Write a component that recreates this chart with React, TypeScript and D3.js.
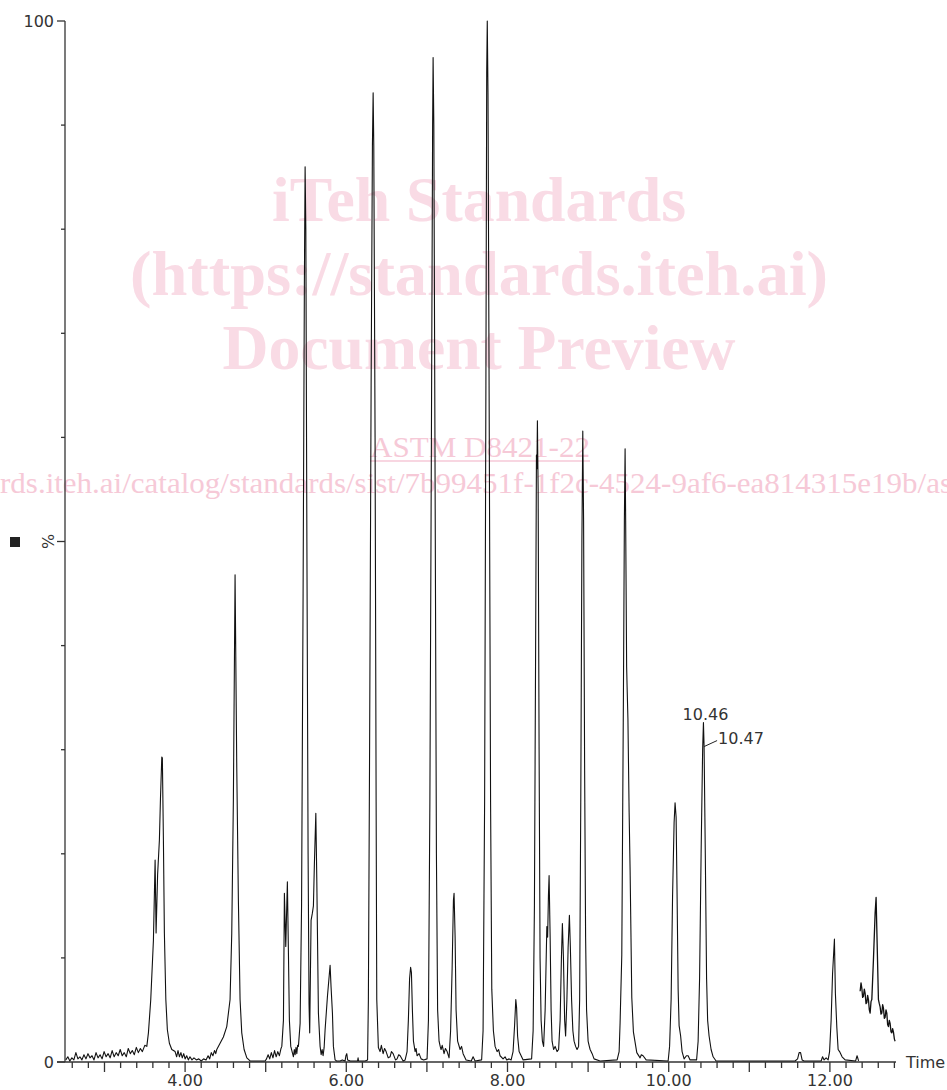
import React from 'react';
import * as d3 from 'd3';

// ---- data (time in minutes, intensity in %) ----
const region1: [number, number][] = [
  [2.52,0.2],[2.545,0.5],[2.57,0.1],[2.595,0.4],[2.62,0.2],[2.645,0.9],[2.67,0.3],[2.695,0.5],[2.72,0.2],[2.745,0.7],
  [2.77,0.3],[2.795,0.8],[2.82,0.4],[2.845,0.6],[2.87,0.2],[2.895,0.9],[2.92,0.4],[2.945,0.7],[2.97,0.3],[2.995,1.0],
  [3.02,0.5],[3.045,0.8],[3.07,0.4],[3.095,1.1],[3.12,0.5],[3.145,0.9],[3.17,0.6],[3.195,1.2],[3.22,0.6],[3.245,0.9],
  [3.27,0.5],[3.295,1.3],[3.32,0.8],[3.345,1.1],[3.37,0.7],[3.395,1.4],[3.42,0.9],[3.445,1.3],[3.47,1.0],[3.5,1.6],
  // peak ~3.71
  [3.525,1.5],[3.545,2.8],[3.574,6.0],[3.607,11.7],[3.628,19.4],[3.64,12.4],[3.659,18],[3.681,21.3],[3.694,25.2],
  [3.711,29.3],[3.718,29.2],[3.731,21.3],[3.743,12.4],[3.761,6.0],[3.78,3.1],[3.805,1.8],[3.835,1.2],[3.876,1.0],
  [3.895,0.5],[3.912,1.1],[3.93,0.5],[3.948,0.9],[3.965,0.4],[3.983,0.8],
];
const region2: [number, number][] = [
  [4.0,0.3],[4.02,0.6],[4.04,0.2],[4.06,0.5],[4.085,0.2],[4.11,0.4],[4.14,0.2],[4.17,0.3],[4.2,0.1],[4.23,0.3],
  [4.26,0.2],[4.285,0.6],[4.305,0.3],[4.325,0.9],[4.345,0.6],[4.365,1.1],[4.38,0.8],
  // peak ~4.62
  [4.393,1.2],[4.434,1.8],[4.475,2.4],[4.517,3.4],[4.558,6.0],[4.579,12.4],[4.599,25.2],[4.62,46.8],[4.641,28.3],
  [4.661,15.6],[4.682,6.0],[4.703,2.8],[4.732,1.2],[4.766,0.4],[4.806,0.1],[4.993,0.1],
  [5.01,0.3],[5.03,0.7],[5.05,0.3],[5.07,0.9],[5.09,0.4],[5.11,1.1],[5.13,0.5],[5.15,1.0],[5.17,0.6],[5.19,1.3],
  // doublet ~5.23 / 5.27
  [5.2,1.5],[5.22,4.0],[5.232,16.2],[5.249,11.1],[5.269,17.3],[5.282,10.5],[5.294,4.0],[5.311,1.5],[5.344,0.5],
  [5.355,1.2],[5.365,0.7],[5.376,1.4],[5.386,0.8],[5.396,1.6],[5.406,1.5],
  // peak ~5.49
  [5.427,3.7],[5.445,15],[5.464,45],[5.48,75],[5.489,86.0],[5.498,80],[5.511,50],[5.526,20],[5.538,5.5],[5.546,2.8],
  // peak ~5.62
  [5.563,13.6],[5.579,14.3],[5.592,15.0],[5.604,19.0],[5.622,23.9],[5.634,17.5],[5.654,4.7],[5.675,1.5],
  [5.688,0.7],[5.7,1.2],[5.712,0.6],[5.725,1.4],
  // peak ~5.80
  [5.737,3.1],[5.766,6.3],[5.799,9.3],[5.811,7.2],[5.828,4.7],[5.84,1.5],[5.861,0.2],[5.88,0.1],[5.923,0.1],
  [5.95,0.2],[5.985,0.1],
];
const region3: [number, number][] = [
  [5.995,0.6],[6.006,0.8],[6.016,0.2],[6.05,0.1],[6.14,0.1],[6.146,0.4],[6.152,0.1],[6.233,0.1],
  // peak ~6.33
  [6.264,0.2],[6.274,6],[6.289,30],[6.308,65],[6.324,88],[6.333,93.1],[6.341,88],[6.357,60],[6.37,25],[6.378,6],
  [6.398,1.4],[6.419,1.0],[6.435,1.6],[6.457,0.8],[6.475,1.3],[6.494,1.0],[6.52,0.4],[6.543,0.5],[6.56,1.0],
  [6.581,0.8],[6.61,0.2],[6.63,0.3],[6.65,0.7],[6.668,0.6],[6.705,0.1],
  // peak ~6.80
  [6.73,0.2],[6.754,1.0],[6.77,4],[6.785,8.0],[6.798,9.1],[6.808,8.6],[6.82,5],[6.833,2.0],[6.854,1.0],[6.866,1.3],
  [6.878,0.6],[6.903,0.8],[6.928,0.3],[6.96,0.2],
  // peak ~7.08
  [7.002,0.3],[7.019,4],[7.037,25],[7.056,60],[7.071,90],[7.077,96.5],[7.086,90],[7.102,55],[7.118,20],[7.133,5],
  [7.151,2],[7.165,1.5],[7.176,1.2],[7.19,1.6],[7.213,0.8],[7.23,1.3],[7.251,1.0],[7.275,0.4],
  // peak ~7.34
  [7.294,3],[7.313,9],[7.329,15.5],[7.337,16.2],[7.35,12],[7.362,5],[7.381,2],[7.412,1.2],[7.43,1.5],[7.449,0.8],
  [7.486,0.2],[7.55,0.1],[7.573,0.5],[7.598,0.1],
  // peak ~7.75
  [7.679,0.2],[7.697,3],[7.716,25],[7.732,65],[7.742,95],[7.749,100],[7.758,93],[7.774,60],[7.79,25],[7.805,7],
  [7.825,3],[7.846,1.5],[7.871,1.0],[7.89,1.2],[7.908,0.6],[7.945,0.3],[7.97,0.5],[7.99,0.2],
];
const region4: [number, number][] = [
  [8.02,0.3],
  // peak ~8.10
  [8.045,0.2],[8.069,1.0],[8.088,3.5],[8.103,6.0],[8.113,5.2],[8.125,2.5],[8.144,1.0],[8.169,0.6],[8.194,0.2],
  // peak ~8.37
  [8.299,0.3],[8.318,3],[8.334,15],[8.349,40],[8.359,58.3],[8.365,57],[8.371,61.6],[8.38,55],[8.392,30],[8.404,10],
  [8.417,4],[8.433,2],
  // peak ~8.52
  [8.448,1.5],[8.467,5],[8.488,13],[8.498,12],[8.508,16],[8.516,17.9],[8.529,12],[8.541,5],[8.553,2.0],[8.572,1.2],
  [8.591,1.5],[8.615,1.0],
  // peaks ~8.68 / 8.77
  [8.634,1.2],[8.653,4],[8.669,10],[8.681,13.3],[8.694,10],[8.709,4],[8.721,2.5],[8.737,6],[8.752,11],[8.768,14.1],
  [8.78,11],[8.795,6],[8.811,3],[8.826,2],[8.845,1.5],[8.863,1.2],
  // peak ~8.93
  [8.882,1.5],[8.895,6],[8.909,25],[8.923,50],[8.934,60.6],[8.944,52],[8.957,28],[8.969,12],[8.981,5],[9.0,2],
  [9.012,1.6],[9.025,1.2],[9.05,0.8],[9.074,0.3],[9.149,0.1],
  // peak ~9.46
  [9.36,0.2],[9.385,1.0],[9.397,3.8],[9.418,10.3],[9.438,35],[9.45,52],[9.459,58.9],[9.466,52],[9.478,38],[9.484,36],
  [9.494,33],[9.509,24],[9.521,18.5],[9.542,6.2],[9.562,2.9],[9.604,0.9],[9.645,0.4],[9.66,0.7],[9.682,0.6],[9.72,0.2],
];
const region5: [number, number][] = [
  // peak ~10.08
  [9.993,0.1],[10.011,1.5],[10.03,6],[10.048,16],[10.067,23],[10.079,24.9],[10.092,23.5],[10.104,16],[10.117,7],
  [10.129,3.5],[10.148,2.5],[10.166,1.0],[10.191,0.3],[10.22,0.6],[10.241,0.6],[10.265,0.2],
  // peak 10.46 / 10.47
  [10.346,0.2],[10.365,2],[10.383,8],[10.402,20],[10.421,30],[10.431,32.6],[10.439,30.3],[10.454,20],[10.47,8],
  [10.483,4],[10.501,2.5],[10.526,1.2],[10.551,0.5],[10.588,0.1],
  [11.568,0.1],[11.599,0.3],[11.618,0.9],[11.636,0.9],[11.655,0.2],[11.68,0.1],
  [11.891,0.1],[11.909,0.5],[11.928,0.2],[11.953,0.4],[11.978,0.2],
  // peak ~12.06
  [11.996,1.0],[12.015,4],[12.033,8.5],[12.056,11.8],[12.068,6.6],[12.086,3.3],[12.102,1.2],[12.12,1.0],[12.151,0.5],
  [12.189,0.2],[12.319,0.1],[12.337,0.6],[12.356,0.1],
];
const tailSegment: [number, number][] = [
  [12.375,6.8],[12.386,7.6],[12.396,7.1],[12.406,6.2],[12.416,6.3],[12.427,7.0],[12.437,6.6],[12.448,5.6],[12.458,5.7],
  [12.468,6.4],[12.478,6.0],[12.489,5.0],[12.499,4.7],[12.51,5.8],[12.52,6.0],[12.54,9.8],[12.561,14.3],[12.573,15.8],
  [12.586,11.4],[12.602,6.0],[12.613,5.6],[12.623,5.3],[12.634,4.6],[12.644,4.7],[12.654,5.5],[12.664,5.2],[12.675,4.2],
  [12.685,4.3],[12.696,5.0],[12.706,4.7],[12.716,3.6],[12.726,3.4],[12.737,4.0],[12.747,3.7],[12.758,2.9],[12.768,2.8],
  [12.778,3.2],[12.788,2.9],[12.8,2.2],[12.809,2.0],
];
const traceMain = [...region1, ...region2, ...region3, ...region4, ...region5];

const xLabelValues = [4, 6, 8, 10, 12];
const xLabelTexts = ['4.00', '6.00', '8.00', '10.00', '12.00'];
const yLabelValues = [0, 50, 100];
const yLabelTexts = ['0', '%', '100'];
const peakLabelTimes = [10.431, 10.439];
const peakLabelTexts = ['10.46', '10.47'];

const watermarkBig = ['iTeh Standards', '(https://standards.iteh.ai)', 'Document Preview'];
const watermarkBigWidths = [414, 698, 513];
const watermarkCode = 'ASTM D8421-22';
const watermarkUrl = 'rds.iteh.ai/catalog/standards/sist/7b99451f-1f2c-4524-9af6-ea814315e19b/as';

export default function App() {
  const x = d3.scaleLinear().domain([2.51, 12.82]).range([65, 896]);
  const y = d3.scaleLinear().domain([0, 100]).range([1062, 21]);
  const line = d3.line<[number, number]>().x(d => x(d[0])).y(d => y(d[1]));
  const minorX = d3.range(26, 129, 2).map(v => v / 10);
  const yTicks = d3.range(0, 101, 10);
  const font = '"DejaVu Sans", Verdana, sans-serif';
  const txt = '#333';
  const serif = '"Liberation Serif", "Times New Roman", Times, serif';
  const peak1 = traceMain.find(d => d[0] === peakLabelTimes[0])!;
  const peak2 = traceMain.find(d => d[0] === peakLabelTimes[1])!;

  return (
    <svg width={947} height={1090} style={{ position: 'absolute', left: 0, top: 0, background: '#fff' }}>
      <rect x={0} y={0} width={947} height={1090} fill="#fff" />
      {/* watermark */}
      <g fontFamily={serif} fill="#f9dbe5">
        {watermarkBig.map((t, i) => (
          <text key={t} x={479} y={221 + i * 74} fontSize={64} fontWeight="bold" textAnchor="middle"
            textLength={watermarkBigWidths[i]} lengthAdjust="spacingAndGlyphs">{t}</text>
        ))}
        <text x={480} y={457} fontSize={29} textAnchor="middle" fill="#f6c9d7"
          textLength={220} lengthAdjust="spacingAndGlyphs">{watermarkCode}</text>
        <line x1={370} x2={590} y1={461} y2={461} stroke="#f6c9d7" strokeWidth={1.5} />
        <text x={0} y={493} fontSize={29} fill="#f6c9d7" fontFamily={serif}
          textLength={952} lengthAdjust="spacingAndGlyphs">{watermarkUrl}</text>
      </g>

      {/* axes */}
      <g stroke="#333" strokeWidth={1.3} fill="none">
        <line x1={65} x2={65} y1={21} y2={1062} />
        <line x1={57} x2={896} y1={1062} y2={1062} />
        {yTicks.map(v => (
          <line key={v} x1={v % 50 === 0 ? 57 : 61} x2={65} y1={y(v)} y2={y(v)} />
        ))}
        {minorX.map(v => {
          const major = Math.abs(v - Math.round(v)) < 1e-6;
          return <line key={v} x1={x(v)} x2={x(v)} y1={1062} y2={1062 + (major ? 10 : 6)} />;
        })}
      </g>

      {/* labels */}
      <g fontFamily={font} fontSize={16} fill={txt}>
        {yLabelValues.map((v, i) =>
          yLabelTexts[i] === '%' ? (
            <text key={v} transform={`translate(54,${y(v)}) rotate(-90)`} textAnchor="middle">%</text>
          ) : (
            <text key={v} x={54} y={y(v) + 6} textAnchor="end">{yLabelTexts[i]}</text>
          )
        )}
        {xLabelValues.map((v, i) => (
          <text key={v} x={x(v)} y={1086} textAnchor="middle">{xLabelTexts[i]}</text>
        ))}
        <text x={906} y={1068}>Time</text>
      </g>
      <rect x={10} y={537} width={10} height={10} fill="#222" />

      {/* trace */}
      <path d={line(traceMain) || ''} fill="none" stroke="#111" strokeWidth={1.1} strokeLinejoin="round" />
      <path d={line(tailSegment) || ''} fill="none" stroke="#111" strokeWidth={1.3} strokeLinejoin="round" />

      {/* peak labels */}
      <g fontFamily={font} fontSize={16} fill={txt}>
        <text x={x(peak1[0]) + 2} y={y(peak1[1]) - 3} textAnchor="middle">{peakLabelTexts[0]}</text>
        <line x1={x(peak2[0])} y1={y(peak2[1])} x2={x(peak2[0]) + 13} y2={y(peak2[1]) - 6} stroke="#222" strokeWidth={1} />
        <text x={x(peak2[0]) + 14} y={y(peak2[1]) - 3}>{peakLabelTexts[1]}</text>
      </g>
    </svg>
  );
}
